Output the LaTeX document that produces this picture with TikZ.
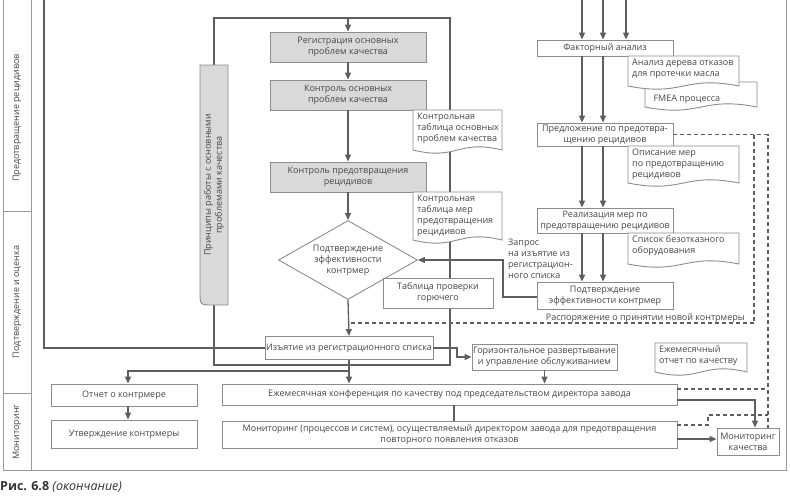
\documentclass[tikz,border=0pt]{standalone}
\usepackage{fontspec}
\setmainfont{Open Sans}
\usetikzlibrary{arrows.meta,shapes.geometric}
\definecolor{txtc}{HTML}{474747}
\definecolor{lnc}{HTML}{5E5E5E}
\definecolor{bdc}{HTML}{8C8C8C}
\definecolor{gfc}{HTML}{D9D9D9}
\definecolor{frc}{HTML}{9A9A9A}
\newcommand\docnode[6]{%
  \path[docst] (#2,#3) -- (#2+#4,#3) -- (#2+#4,#3+#5) .. controls (#2+0.5*#4,#3+#5-11) and (#2+0.5*#4,#3+#5+11) .. (#2,#3+#5) -- cycle;
  \node[doctext, anchor=north west] (#1) at (#2,#3) {#6};}
\begin{document}
\begin{tikzpicture}[x=1pt,y=-1pt, font=\fontsize{9}{11}\selectfont, text=txtc,
  sz/.style 2 args={minimum width=#1pt, minimum height=#2pt},
  box/.style={draw=bdc, line width=0.9pt, fill=white, align=center, inner sep=1pt},
  gbox/.style={box, fill=gfc},
  docst/.style={draw=bdc, line width=0.9pt, fill=white},
  doctext/.style={align=left, inner xsep=4pt, inner ysep=2.5pt},
  conn/.style={draw=lnc, line width=1.3pt},
  arr/.style={conn, -{Triangle[length=7pt,width=6pt]}},
  dsh/.style={draw=lnc, line width=1.1pt, dash pattern=on 4pt off 3pt},
  frame/.style={draw=frc, line width=0.8pt}]
\useasboundingbox (0,0) rectangle (790,499);

% frame and lanes
\draw[frame] (3,0) -- (3,470) -- (786,470) -- (786,0);
\draw[frame] (31,0) -- (31,470);
\draw[frame] (3,211) -- (31,211);
\draw[frame] (3,393) -- (31,393);
\node[rotate=90] (lane1) at (17,118) {Предотвращение рецидивов};
\node[rotate=90] (lane2) at (17,302) {Подтверждение и оценка};
\node[rotate=90] (lane3) at (17,432) {Мониторинг};

% nodes
\node[gbox, sz={156}{30}] (reg) at (348,47) {Регистрация основных\\проблем качества};
\node[gbox, sz={156}{30}] (kon) at (348,95) {Контроль основных\\проблем качества};
\node[gbox, sz={156}{30}] (kpr) at (348,177) {Контроль предотвращения\\рецидивов};
\node[box, sz={161}{23}] (izy) at (349,348) {Изъятие из регистрационного списка};
\node[box, sz={145}{26}] (gor) at (544.5,357) {Горизонтальное развертывание\\и управление обслуживанием};
\node[box, sz={455}{21}] (konf) at (449.5,394.5) {Ежемесячная конференция по качеству под председательством директора завода};
\node[box, sz={455}{27}] (mon) at (449.5,434.5) {Мониторинг (процессов и систем), осуществляемый директором завода для предотвращения\\повторного появления отказов};
\node[box, sz={62}{27}] (monk) at (748,441.5) {Мониторинг\\качества};
\node[box, sz={146}{22}] (otch) at (124,395) {Отчет о контрмере};
\node[box, sz={146}{28}] (utv) at (124,434) {Утверждение контрмеры};
\node[box, sz={136}{16}] (fak) at (605,48) {Факторный анализ};
\node[box, sz={136}{23}] (pred) at (605,134.5) {Предложение по предотвра-\\щению рецидивов};
\node[box, sz={136}{25}] (real) at (605,220.5) {Реализация мер по\\предотвращению рецидивов};
\node[box, sz={136}{27}] (podt) at (605,295.5) {Подтверждение\\эффективности контрмер};

% coordinates
\coordinate (ptop) at (214,65);
\coordinate (pbot) at (214,305);
\coordinate (c1) at (214,18);
\coordinate (c2) at (450,18);
\coordinate (c3) at (450,365);
\coordinate (c4) at (214,365);
\coordinate (regin) at (348,18);
\coordinate (ltop) at (44,0);
\coordinate (br) at (349,371);
\coordinate (bl) at (128,371);
\coordinate (t1) at (582,0);
\coordinate (t2) at (603,0);
\coordinate (t3) at (626,0);

% connectors
\draw[conn] (ptop) -- (c1) -- (c2) -- (c3) -- (c4) -- (pbot);
\draw[arr] (regin) -- (reg.north);
\draw[arr] (reg.south) -- (kon.north);
\draw[arr] (kon.south) -- (kpr.north);
\draw[conn] (ltop) |- (izy.west);
\draw[arr] (izy.south) -- (izy.south |- konf.north);
\draw[arr] (br) -- (bl) -- (bl |- otch.north);
\draw[arr] (bl |- otch.south) -- (bl |- utv.north);
\draw[arr] (izy.east) -- (457,348) |- (gor.west);
\draw[arr] (gor.south) -- (gor.south |- konf.north);
\draw[conn] (konf.south -| 454,0) -- (mon.north -| 454,0);
\draw[arr] (konf.east |- 0,400) -- (755,400) -- (monk.north -| 755,0);
\draw[arr] (mon.east |- 0,439) -- (monk.west |- 0,439);
\draw[dsh] (pred.east) -- (768,134.5) -- (monk.north -| 768,0);
\draw[dsh] (754,134.5) -- (754,323) -- (348,323);
\draw[dsh] (konf.east |- 0,389) -- (768,389);
\draw[dsh] (mon.east |- 0,425) -- (708,425) -- (708,415) -- (768,415);
\draw[arr] (t1) -- (t1 |- fak.north);
\draw[arr] (t2) -- (t2 |- fak.north);
\draw[arr] (t3) -- (t3 |- fak.north);
\foreach \xx in {582,603}{
  \draw[arr] (fak.south -| \xx,0) -- (pred.north -| \xx,0);
  \draw[arr] (pred.south -| \xx,0) -- (real.north -| \xx,0);
  \draw[arr] (real.south -| \xx,0) -- (podt.north -| \xx,0);
}

% diamond
\node[diamond, draw=bdc, line width=0.9pt, fill=white, align=center, inner sep=0pt, shape aspect=1.76,
      sz={139}{79}] (diam) at (348,260) {Подтверждение\\эффективности\\контрмер};
\draw[arr] (kpr.south) -- (diam.north);
\draw[arr] (diam.south) -- (izy.north);
\draw[arr] (podt.west |- 0,297) -- (503,297) -- (503,260) -- (diam.east);

% principles box
\path[draw=bdc, line width=0.9pt, fill=gfc] (228,65) -- (200,65) -- (200,292) .. controls (200,305) and (200,305) .. (213,305) -- (228,305) -- cycle;
\node[rotate=90, align=center, inner sep=0pt] (princ) at (214,185) {Принципы работы с основными\\проблемами качества};

% documents
\docnode{doc1}{413}{110}{89}{40}{Контрольная\\таблица основных\\проблем качества}
\docnode{doc2}{413}{192}{89}{48}{Контрольная\\таблица мер\\предотвращения\\рецидивов}
\node[box, sz={110}{30}] (tabl) at (438,293) {Таблица проверки\\горючего};
\path[docst] (645,82) -- (757,82) -- (757,107) .. controls (701,96) and (701,118) .. (645,107) -- cycle;
\node[anchor=west] (fmea) at (650,99) {FMEA процесса};
\docnode{doc3}{628}{56}{111}{30}{Анализ дерева отказов\\для протечки масла}
\docnode{doc4}{628}{146}{111}{37}{Описание мер\\по предотвращению\\рецидивов}
\docnode{doc5}{628}{233}{111}{31}{Список безотказного\\оборудования}
\docnode{doc6}{655}{343}{92}{29}{Ежемесячный\\отчет по качеству}

% free labels
\node[anchor=north west, align=left, inner sep=0pt] (zapr) at (508,239) {Запрос\\на изъятие из\\регистрацион-\\ного списка};
\node[anchor=east, inner sep=0pt] (rasp) at (745,318) {Распоряжение о принятии новой контрмеры};

% caption
\node[anchor=west, inner sep=0pt, text=black!80, font=\fontsize{12.5}{14}\selectfont] (cap) at (0,487) {\textbf{Рис. 6.8} \textit{(окончание)}};
\end{tikzpicture}
\end{document}
